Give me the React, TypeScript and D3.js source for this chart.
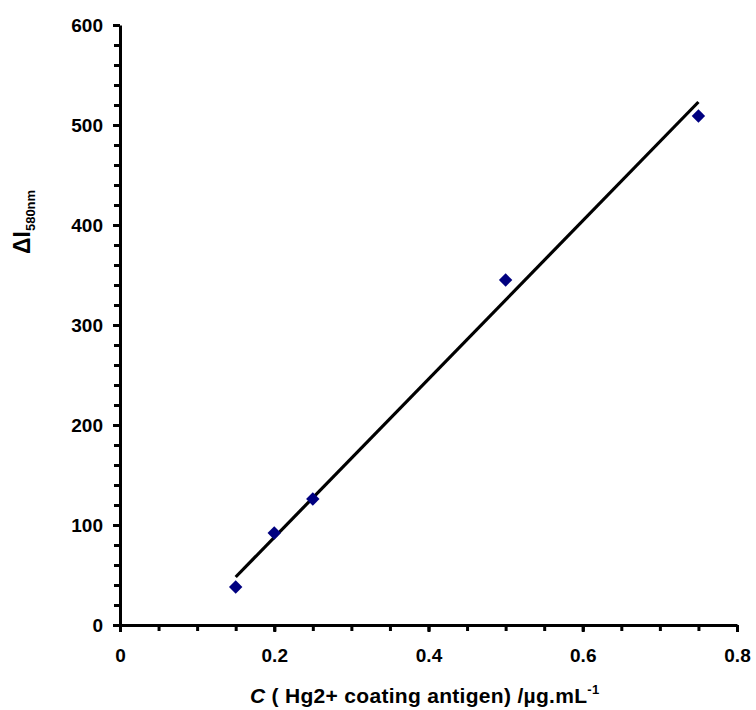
import React, { useEffect, useRef } from 'react';
import * as d3 from 'd3';

// readings
const concentrations = [0.15, 0.2, 0.25, 0.5, 0.75];
const intensities = [38, 92, 126, 345, 509];
// fitted line end points (x, y) as drawn in the reference
const fitX = [0.15, 0.75];
const fitY = [48, 523];

const xMajor = [0, 0.2, 0.4, 0.6, 0.8];
const xMinor = d3.range(0, 0.8001, 0.05);
const yMajor = [0, 100, 200, 300, 400, 500, 600];
const yMinor = d3.range(0, 601, 20);

const FONT = "'Liberation Sans', Arial, sans-serif";

const App = () => {
  const svgRef = useRef<SVGSVGElement>(null);

  useEffect(() => {
    const svg = d3.select(svgRef.current);
    svg.selectAll('*').remove();

    const x = d3.scaleLinear().domain([0, 0.8]).range([120, 737]);
    const y = d3.scaleLinear().domain([0, 600]).range([625, 25]);

    const g = svg.append('g');

    // minor ticks
    g.append('g')
      .attr('transform', `translate(0,${y(0)})`)
      .call(d3.axisBottom(x).tickValues(xMinor).tickSize(6).tickFormat(() => ''))
      .call(a => a.select('.domain').remove());
    g.append('g')
      .attr('transform', `translate(${x(0)},0)`)
      .call(d3.axisLeft(y).tickValues(yMinor).tickSize(6).tickFormat(() => ''))
      .call(a => a.select('.domain').remove());

    // major ticks + labels
    const xAxis = g.append('g')
      .attr('transform', `translate(0,${y(0)})`)
      .call(d3.axisBottom(x).tickValues(xMajor).tickSize(7).tickSizeOuter(0).tickPadding(17)
        .tickFormat(d => (+d === 0 ? '0' : d3.format('.1f')(+d))));
    const yAxis = g.append('g')
      .attr('transform', `translate(${x(0)},0)`)
      .call(d3.axisLeft(y).tickValues(yMajor).tickSize(7).tickSizeOuter(0).tickPadding(10));

    [xAxis, yAxis].forEach(a => {
      a.selectAll('text')
        .style('font-family', FONT)
        .style('font-weight', 'bold')
        .style('font-size', '19px')
        .style('fill', '#000');
    });

    svg.selectAll('.tick line').attr('stroke', '#000').attr('stroke-width', 3);
    svg.selectAll('.domain').attr('stroke', '#000').attr('stroke-width', 3);

    // fit line
    const line = d3.line<number>()
      .x((d, i) => x(fitX[i]))
      .y(d => y(d));
    g.append('path')
      .datum(fitY)
      .attr('d', line)
      .attr('fill', 'none')
      .attr('stroke', '#000')
      .attr('stroke-width', 3.2);

    // diamonds
    const diamond = d3.symbol().type(d3.symbolSquare).size(90);
    g.selectAll('.pt')
      .data(concentrations)
      .enter()
      .append('path')
      .attr('class', 'pt')
      .attr('d', diamond)
      .attr('transform', (d, i) => `translate(${x(d)},${y(intensities[i])}) rotate(45)`)
      .attr('fill', '#000080');

    // x title
    const xt = svg.append('text')
      .attr('x', 250)
      .attr('y', 703)
      .style('font-family', FONT)
      .style('font-weight', 'bold')
      .style('font-size', '21px')
      .style('letter-spacing', '0.3px');
    xt.append('tspan').style('font-style', 'italic').text('C');
    xt.append('tspan').text(' ( Hg2+ coating antigen) /µg.mL');
    xt.append('tspan').attr('dy', -9).style('font-size', '13px').text('-1');

    // y title
    const yt = svg.append('text')
      .attr('transform', 'translate(30,254) rotate(-90)')
      .style('font-family', FONT)
      .style('font-weight', 'bold')
      .style('font-size', '23px');
    yt.append('tspan').text('ΔI');
    yt.append('tspan').attr('dy', 5).style('font-size', '13px').text('580nm');
  }, []);

  return (
    <div style={{ position: 'absolute', left: 0, top: 0, background: '#fff' }}>
      <svg ref={svgRef} width={756} height={710}></svg>
    </div>
  );
};

export default App;
